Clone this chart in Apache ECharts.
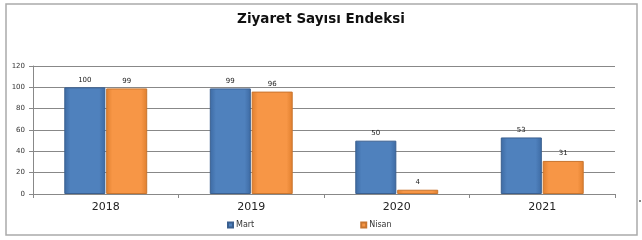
<!DOCTYPE html>
<html><head><meta charset="utf-8">
<script src="https://cdn.jsdelivr.net/npm/echarts@6/dist/echarts.min.js"></script>
<style>html,body{margin:0;padding:0;background:#fff}#c{width:642px;height:240px}</style>
</head><body><div id="c"></div>
<script>
const categories = ['2018', '2019', '2020', '2021'];
const mart = [100, 99, 50, 53];
const nisan = [99, 96, 4, 31];
const yTicks = [0, 20, 40, 60, 80, 100, 120];

function grad(edge, mid) {
  return new echarts.graphic.LinearGradient(0, 0, 1, 0, [
    {offset: 0, color: edge}, {offset: 0.15, color: mid}, {offset: 0.85, color: mid}, {offset: 1, color: edge}
  ]);
}
const chart = echarts.init(document.getElementById('c'));
chart.setOption({
  animation: false,
  title: {text: 'Ziyaret Sayısı Endeksi', left: 'center', top: 7,
    textStyle: {fontFamily: 'DejaVu Sans', fontSize: 13.5, fontWeight: 'bold', color: '#111'}},
  graphic: [{type: 'rect', shape: {x: 6, y: 4, width: 631, height: 231},
    style: {fill: 'none', stroke: '#aaa', lineWidth: 1.5}, silent: true},
    {type: 'rect', shape: {x: 639, y: 200, width: 2, height: 2}, style: {fill: '#888'}, silent: true}],
  grid: {left: 33, right: 27, top: 66, bottom: 46},
  legend: {bottom: 6, left: 222, itemGap: 106, itemWidth: 5, itemHeight: 5, icon: 'rect',
    textStyle: {fontFamily: 'DejaVu Sans', fontSize: 8, color: '#333', padding: [0,0,0,-2]},
    data: ['Mart', 'Nisan']},
  xAxis: {type: 'category', data: categories,
    axisLine: {lineStyle: {color: '#888'}}, axisTick: {show: true, length: 4, lineStyle: {color: '#888'}},
    axisLabel: {fontFamily: 'DejaVu Sans', fontSize: 11, color: '#222', margin: 8}},
  yAxis: {type: 'value', min: 0, max: 120, interval: 20,
    axisLine: {show: true, lineStyle: {color: '#888'}}, axisTick: {show: true, length: 4, lineStyle: {color: '#888'}},
    splitLine: {lineStyle: {color: '#888'}},
    axisLabel: {fontFamily: 'DejaVu Sans', fontSize: 7, color: '#333',
      formatter: v => yTicks.includes(v) ? String(v) : ''}},
  series: [
    {name: 'Mart', type: 'bar', data: mart, barGap: '2%', barCategoryGap: '43%',
      itemStyle: {color: grad('#3d6aa3', '#4f81bd'), borderColor: '#3a5f8f', borderWidth: 1},
      label: {show: true, position: 'top', distance: 4, fontFamily: 'DejaVu Sans', fontSize: 7, color: '#222'}},
    {name: 'Nisan', type: 'bar', data: nisan,
      itemStyle: {color: grad('#e07f2e', '#f79646'), borderColor: '#c8752f', borderWidth: 1},
      label: {show: true, position: 'top', distance: 4, fontFamily: 'DejaVu Sans', fontSize: 7, color: '#222'}}
  ]
});
</script></body></html>
